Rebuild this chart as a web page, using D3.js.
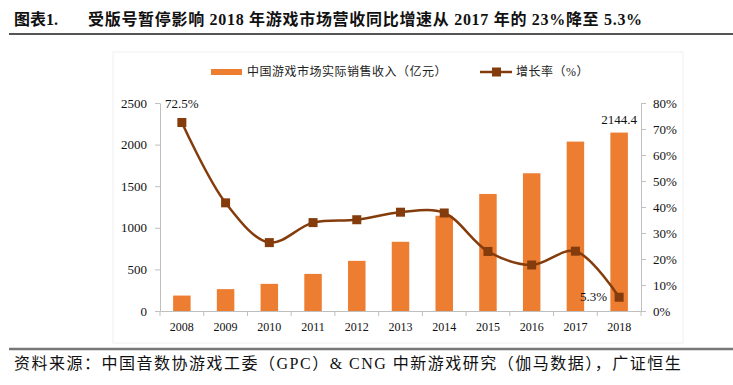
<!DOCTYPE html>
<html>
<head>
<meta charset="utf-8">
<script src="https://cdn.jsdelivr.net/npm/d3@7"></script>
<style>
  body { margin: 0; background: #fff; }
  text { font-family: "Liberation Serif", "Noto Sans CJK SC", serif; }
</style>
</head>
<body>
<svg id="chart" width="733" height="385"></svg>
<script>
const years = ['2008', '2009', '2010', '2011', '2012', '2013', '2014', '2015', '2016', '2017', '2018'];
const revenue = [185.6, 262.8, 326.2, 446.1, 602.8, 831.7, 1144.8, 1407.0, 1655.7, 2036.1, 2144.4];
const growth = [72.5, 41.6, 26.3, 34.0, 35.1, 38.0, 37.7, 22.9, 17.7, 23.0, 5.3];
const leftTicks = [0, 500, 1000, 1500, 2000, 2500];
const rightTicks = [0, 10, 20, 30, 40, 50, 60, 70, 80];

const svg = d3.select('#chart');
const orange = '#ED7D31';
const brown = '#843C0C';
const margin = { left: 160, right: 92, top: 103, bottom: 74 };
const width = 733 - margin.left - margin.right;
const height = 385 - margin.top - margin.bottom;

// title + rules
const title = svg.append('text')
  .attr('y', 25)
  .attr('font-size', 16).attr('font-weight', 'bold')
  .attr('fill', '#111');
title.append('tspan').attr('x', 14).text('图表1.');
title.append('tspan').attr('x', 88).attr('letter-spacing', 0.7)
  .text('受版号暂停影响 2018 年游戏市场营收同比增速从 2017 年的 23%降至 5.3%');
svg.append('line').attr('x1', 9).attr('x2', 733).attr('y1', 34).attr('y2', 34)
  .attr('stroke', '#555').attr('stroke-width', 2);
svg.append('line').attr('x1', 9).attr('x2', 733).attr('y1', 349).attr('y2', 349)
  .attr('stroke', '#777').attr('stroke-width', 2.5);
svg.append('text')
  .attr('x', 14).attr('y', 369)
  .attr('font-size', 16).attr('letter-spacing', 1.5).attr('fill', '#111')
  .text('资料来源：中国音数协游戏工委（GPC）& CNG 中新游戏研究（伽马数据），广证恒生');

// faint chart frame
svg.append('rect').attr('x', 113).attr('y', 52).attr('width', 570).attr('height', 291)
  .attr('fill', 'none').attr('stroke', '#f0f0f0');

const g = svg.append('g').attr('transform', `translate(${margin.left},${margin.top})`);

const x = d3.scaleBand().domain(years).range([0, width]);
const yL = d3.scaleLinear().domain([0, 2500]).range([height, 0]);
const yR = d3.scaleLinear().domain([0, 80]).range([height, 0]);

const styleAxis = sel => {
  sel.select('.domain').attr('stroke', '#bfbfbf');
  sel.selectAll('.tick line').attr('stroke', '#bfbfbf');
  sel.selectAll('.tick text').attr('font-size', 13).attr('fill', '#111')
    .attr('font-family', '"Liberation Serif", serif');
};

g.append('g')
  .call(d3.axisLeft(yL).tickValues(leftTicks).tickFormat(d3.format('d'))
    .tickSize(5).tickPadding(8).tickSizeOuter(0))
  .call(styleAxis);
g.append('g').attr('transform', `translate(${width},0)`)
  .call(d3.axisRight(yR).tickValues(rightTicks).tickSize(5).tickPadding(7).tickSizeOuter(0)
    .tickFormat(d => d + '%'))
  .call(styleAxis);

const xAxis = g.append('g').attr('transform', `translate(0,${height})`)
  .call(d3.axisBottom(x).tickSize(0).tickPadding(11))
  .call(styleAxis);
xAxis.selectAll('.tick text').attr('font-size', 12);
// tick marks between categories
g.append('g').selectAll('line')
  .data(d3.range(years.length + 1))
  .join('line')
  .attr('x1', i => i * x.step()).attr('x2', i => i * x.step())
  .attr('y1', height).attr('y2', height + 5)
  .attr('stroke', '#bfbfbf');

const bw = x.bandwidth() * 0.4;
g.append('g').selectAll('rect')
  .data(revenue)
  .join('rect')
  .attr('x', (d, i) => x(years[i]) + (x.bandwidth() - bw) / 2)
  .attr('y', d => yL(d))
  .attr('width', bw)
  .attr('height', d => height - yL(d))
  .attr('fill', orange);

const cx = i => x(years[i]) + x.bandwidth() / 2;
const line = d3.line()
  .x((d, i) => cx(i))
  .y(d => yR(d))
  .curve(d3.curveCatmullRom.alpha(0.5));
g.append('path').datum(growth)
  .attr('d', line)
  .attr('fill', 'none')
  .attr('stroke', brown)
  .attr('stroke-width', 2.5);

g.append('g').selectAll('rect')
  .data(growth)
  .join('rect')
  .attr('x', (d, i) => cx(i) - 4.5)
  .attr('y', d => yR(d) - 4.5)
  .attr('width', 9).attr('height', 9)
  .attr('fill', brown);

// data labels
g.append('text').attr('x', cx(0)).attr('y', yR(growth[0]) - 15)
  .attr('text-anchor', 'middle').attr('font-size', 13).attr('fill', '#111')
  .text(growth[0] + '%');
g.append('text').attr('x', cx(10) - 12).attr('y', yR(growth[10]) + 4)
  .attr('text-anchor', 'end').attr('font-size', 13).attr('fill', '#111')
  .text(growth[10] + '%');
g.append('text').attr('x', cx(10)).attr('y', yL(revenue[10]) - 9)
  .attr('text-anchor', 'middle').attr('font-size', 13).attr('fill', '#111')
  .text(revenue[10]);

// legend
const leg = svg.append('g').attr('font-size', 12).attr('letter-spacing', 0.5);
leg.append('rect').attr('x', 211).attr('y', 69).attr('width', 31).attr('height', 6).attr('fill', orange);
leg.append('text').attr('x', 247).attr('y', 76).attr('fill', '#222')
  .attr('font-family', '"Noto Sans CJK SC", sans-serif')
  .text('中国游戏市场实际销售收入（亿元）');
leg.append('line').attr('x1', 480).attr('x2', 512).attr('y1', 72).attr('y2', 72)
  .attr('stroke', brown).attr('stroke-width', 2.5);
leg.append('rect').attr('x', 492).attr('y', 67.5).attr('width', 9).attr('height', 9).attr('fill', brown);
leg.append('text').attr('x', 516).attr('y', 76).attr('fill', '#222')
  .attr('font-family', '"Noto Sans CJK SC", sans-serif')
  .text('增长率（%）');
</script>
</body>
</html>
